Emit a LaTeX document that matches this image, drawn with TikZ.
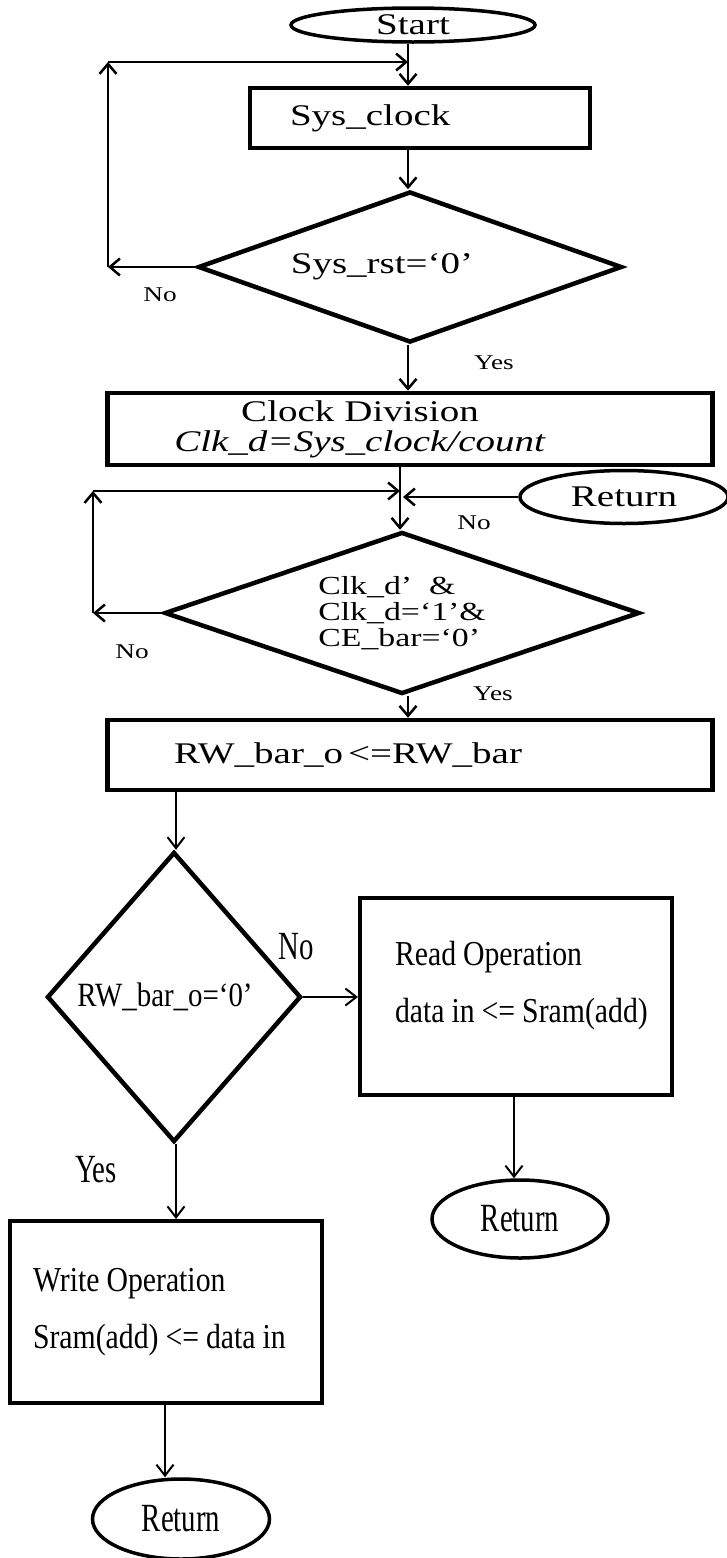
\documentclass[tikz,border=0pt]{standalone}
\usepackage{fontspec}
\setmainfont{Liberation Serif}
\newfontfamily\widefont{Liberation Serif}[FakeStretch=1.3]
\newfontfamily\narrowfont{Liberation Serif}[FakeStretch=0.85]
\newfontfamily\tallfont{Liberation Serif}[FakeStretch=0.72]
\usetikzlibrary{arrows.meta, calc, positioning, shapes.geometric}
\newcommand{\tightspace}{\spaceskip=7pt\relax}

\begin{document}
\begin{tikzpicture}[x=1pt, y=1pt,
    box/.style={draw, rectangle, line width=4.5pt, inner sep=0pt},
    term/.style={draw, ellipse, line width=3.5pt, inner sep=0pt},
    cond/.style={draw, diamond, line width=4.5pt, inner sep=0pt},
    arr/.style={line width=2.5pt, -{Straight Barb[length=10pt, width=17pt]}},
    thinarr/.style={line width=2pt, -{Straight Barb[length=11pt, width=17pt]}},
    big/.style={font=\widefont\fontsize{30}{30}\selectfont},
    small/.style={font=\widefont\fontsize{21}{23}\selectfont},
    tall/.style={font=\narrowfont\fontsize{35}{57}\selectfont, execute at begin node=\tightspace},
    tallmark/.style={font=\tallfont\fontsize{40}{42}\selectfont}]
    \useasboundingbox (0,0) rectangle (726,-1558);

    % Reset loop
    \node[term, big, minimum width=244pt, minimum height=34pt] (start) at (413,-25) {Start};
    \node[box, big, minimum width=340pt, minimum height=60pt, text width=260pt, align=left] (sysclk) at (420,-118) {Sys\_clock};
    \node[cond, big, minimum width=424pt, minimum height=151pt, aspect=2.8] (rst) at (410,-267) {Sys\_rst=‘0’\hspace*{56pt}};
    \node[small] (no1) at (160,-295) {No};
    \node[small] (yes1) at (494,-363) {Yes};

    \coordinate (j1) at (408,-62);
    \coordinate (c1) at (108,-267);
    \coordinate (c2) at (108,-62);
    \draw[arr] (start.south -| j1) -- (sysclk.north -| j1);
    \draw[arr] (sysclk.south -| j1) -- (rst.north -| j1);
    \draw[arr] (rst.west) -- (c1);
    \draw[arr] (c1) -- (c2);
    \draw[arr] (c2) -- (j1);

    % Clock division and enable loop
    \node[box, big, minimum width=605pt, minimum height=72pt, text width=605pt, align=left] (clkdiv) at (410,-429)
        {\parbox{505pt}{\centering Clock Division\\ \textit{Clk\_d=Sys\_clock/count}}};
    \node[term, big, minimum width=208pt, minimum height=53pt] (ret1) at (624,-497) {Return};
    \node[cond, font=\widefont\fontsize{26}{26}\selectfont, align=left, minimum width=475pt, minimum height=162pt, aspect=2.9] (clk) at (402,-613)
        {Clk\_d’\ \ \&\\Clk\_d=‘1’\&\\CE\_bar=‘0’};
    \node[small] (no2) at (474,-523) {No};
    \node[small] (no3) at (132,-652) {No};
    \node[small] (yes2) at (493,-694) {Yes};

    \coordinate (j2) at (400,-491);
    \coordinate (j3) at (403,-497);
    \coordinate (c3) at (93,-613);
    \coordinate (c4) at (93,-491);
    \draw[arr] (rst.south -| j1) -- (clkdiv.north -| j1);
    \draw[arr] (clkdiv.south -| j2) -- (clk.north -| j2);
    \draw[arr] (ret1) -- (j3);
    \draw[arr] (clk.west) -- (c3);
    \draw[arr] (c3) -- (c4);
    \draw[arr] (c4) -- (j2);

    % Read / write selection
    \node[box, big, minimum width=605pt, minimum height=70pt, text width=605pt, align=left] (rw) at (410,-755)
        {\parbox{481pt}{\centering RW\_bar\_o\,<=RW\_bar}};
    \node[cond, font=\narrowfont\fontsize{34}{36}\selectfont, minimum width=254pt, minimum height=290pt, aspect=0.88] (rwsel) at (174,-997) {RW\_bar\_o=‘0’\hspace*{18pt}};
    \node[box, line width=4pt, tall, minimum width=312pt, minimum height=197pt, text width=312pt, align=left] (read) at (516,-996)
        {\hspace*{35pt}\parbox{272pt}{Read Operation\\data in <= Sram(add)\par\vspace{20pt}}};
    \node[box, line width=4pt, tall, minimum width=312pt, minimum height=182pt, text width=312pt, align=left] (write) at (166,-1312)
        {\hspace*{23pt}\parbox{285pt}{Write Operation\\Sram(add) <= data in}};
    \node[term, tallmark, minimum width=176pt, minimum height=78pt] (ret2) at (520,-1219) {Return};
    \node[term, tallmark, minimum width=177pt, minimum height=80pt] (ret3) at (181,-1519) {Return};
    \node[tallmark] (no4) at (296,-947) {No};
    \node[tallmark] (yes3) at (96,-1170) {Yes};

    \coordinate (k1) at (176,0);
    \coordinate (k2) at (514,0);
    \coordinate (k3) at (165,0);
    \draw[arr] (clk.south -| j1) -- (rw.north -| j1);
    \draw[thinarr] (rw.south -| k1) -- (rwsel.north -| k1);
    \draw[thinarr] (rwsel.east) -- (rwsel.east -| read.west);
    \draw[thinarr] (read.south -| k2) -- (ret2.north -| k2);
    \draw[thinarr] (rwsel.south -| k1) -- (write.north -| k1);
    \draw[thinarr] (write.south -| k3) -- (ret3.north -| k3);
\end{tikzpicture}
\end{document}
